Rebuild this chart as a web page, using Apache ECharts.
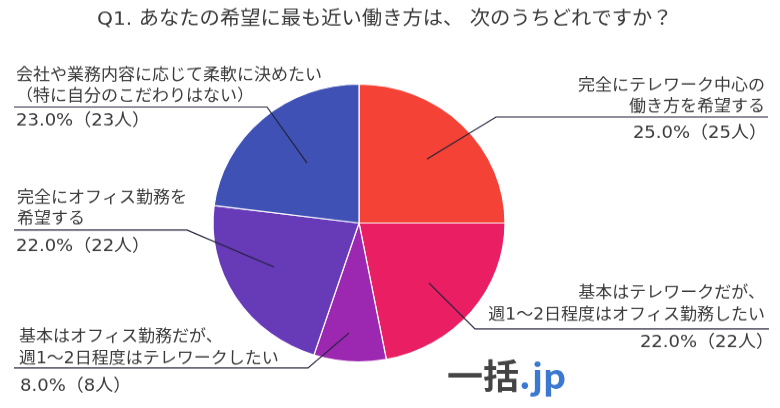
<!DOCTYPE html>
<html>
<head>
<meta charset="utf-8">
<title>Q1</title>
<style>
html, body { margin: 0; padding: 0; background: #fff; overflow: hidden; }
/* the source picture is squeezed vertically, so the whole chart gets squeezed too */
#container { width: 780px; height: 429px; transform: scaleY(0.951); transform-origin: 0 0; }
</style>
<script src="https://cdn.jsdelivr.net/npm/echarts@6/dist/echarts.min.js"></script>
</head>
<body>
<div id="container"></div>
<script>
var titleText = 'Q1. あなたの希望に最も近い働き方は、 次のうちどれですか？';
var answers = [
	['完全にテレワーク中心の', '働き方を希望する'],
	['基本はテレワークだが、', '週1～2日程度はオフィス勤務したい'],
	['基本はオフィス勤務だが、', '週1～2日程度はテレワークしたい'],
	['完全にオフィス勤務を', '希望する'],
	['会社や業務内容に応じて柔軟に決めたい', '（特に自分のこだわりはない）']
];
var percents = [25, 22, 8, 22, 23];
var people = [25, 22, 8, 22, 23];
var colors = ['#f44336', '#e91e63', '#9c27b0', '#673ab7', '#3f51b5'];

var SQUASH = 408 / 429;
// DejaVu only has the latin glyphs, kana and kanji fall through to Noto
var FONT = '"DejaVu Sans", "Noto Sans CJK JP", sans-serif';
var LOGO_FONT = '"Noto Sans CJK JP", sans-serif';
var TEXT_COLOR = '#3a3a3a';

// page y -> chart y
function Y(y) {
	return y / SQUASH;
}

// label positions and leader lines, in page pixels
var layout = [
	{ x: 765, align: 'right', lineY: [86, 107], valueX: 767, valueY: 133, leader: [[768, 117], [496, 117], [427, 159]] },
	{ x: 765, align: 'right', lineY: [293, 315], valueX: 774, valueY: 343, leader: [[769, 329], [475, 329], [429, 283]] },
	{ x: 19, align: 'left', lineY: [337, 359], valueX: 20, valueY: 386, leader: [[14, 368], [308, 368], [349, 333]] },
	{ x: 17, align: 'left', lineY: [198, 219], valueX: 16, valueY: 247, leader: [[14, 230], [187, 230], [274, 267]] },
	{ x: 16, align: 'left', lineY: [76, 97], valueX: 16, valueY: 121, leader: [[14, 107], [267, 107], [307, 163]] }
];

function textEl(str, x, y, align, size, color, weight, family) {
	return {
		type: 'text',
		x: x,
		y: Y(y),
		silent: true,
		style: {
			text: str,
			fill: color || TEXT_COLOR,
			font: (weight || 'normal') + ' ' + (size || 17) + 'px ' + (family || FONT),
			textAlign: align,
			textVerticalAlign: 'middle'
		}
	};
}

var graphics = [];
layout.forEach(function(item, i) {
	answers[i].forEach(function(line, j) {
		graphics.push(textEl(line, item.x, item.lineY[j], item.align));
	});
	graphics.push(textEl(percents[i].toFixed(1) + '%（' + people[i] + '人）', item.valueX, item.valueY, item.align, 18));
	graphics.push({
		type: 'polyline',
		silent: true,
		z: 10,
		shape: { points: item.leader.map(function(p) { return [p[0], Y(p[1])]; }) },
		style: { stroke: '#22223a', lineWidth: 1.2, fill: null }
	});
});
graphics.push(textEl('一括', 447, 376, 'left', 36, '#444', 'bold', LOGO_FONT));
graphics.push(textEl('.jp', 519, 376, 'left', 36, '#3b78d0', 'bold', LOGO_FONT));

var myChart = echarts.init(document.getElementById('container'), null, { renderer: 'canvas' });
myChart.setOption({
	animation: false,
	backgroundColor: '#fff',
	title: {
		text: titleText,
		left: 92,
		top: 6,
		textStyle: { fontFamily: FONT, fontSize: 20.3, fontWeight: 'normal', color: TEXT_COLOR }
	},
	series: [{
		type: 'pie',
		center: [359, Y(223)],
		radius: 146,
		startAngle: 90,
		clockwise: true,
		silent: true,
		label: { show: false },
		labelLine: { show: false },
		itemStyle: { borderColor: '#fff', borderWidth: 1.2 },
		data: percents.map(function(v, i) {
			return { name: answers[i].join(''), value: v, itemStyle: { color: colors[i] } };
		})
	}],
	graphic: graphics
});
</script>
</body>
</html>
